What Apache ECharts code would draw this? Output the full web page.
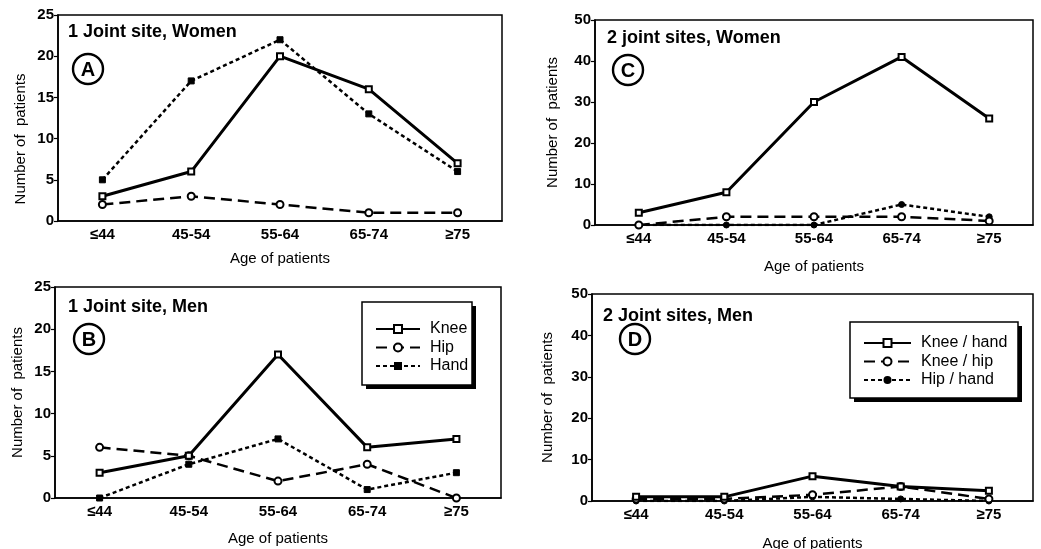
<!DOCTYPE html>
<html>
<head>
<meta charset="utf-8">
<script src="https://cdn.jsdelivr.net/npm/echarts@6/dist/echarts.min.js"></script>
<style>
html,body{margin:0;padding:0;background:#fff;}
#chart{width:1041px;height:549px;}
</style>
</head>
<body>
<div id="chart"></div>
<script>
var categories = ['≤44', '45-54', '55-64', '65-74', '≥75'];
var yTicks1 = [0, 5, 10, 15, 20, 25];
var yTicks2 = [0, 10, 20, 30, 40, 50];

var aKnee = [3, 6, 20, 16, 7];
var aHip = [2, 3, 2, 1, 1];
var aHand = [5, 17, 22, 13, 6];

var bKnee = [3, 5, 17, 6, 7];
var bHip = [6, 5, 2, 4, 0];
var bHand = [0, 4, 7, 1, 3];

var cKneeHand = [3, 8, 30, 41, 26];
var cKneeHip = [0, 2, 2, 2, 1];
var cHipHand = [0, 0, 0, 5, 2];

var dKneeHand = [1, 1, 6, 3.5, 2.5];
var dKneeHip = [0.5, 0.5, 1.5, 3.5, 0.5];
var dHipHand = [0, 0, 1, 0.5, 0];

var panelTitles = ['1 Joint site, Women', '1 Joint site, Men', '2 joint sites, Women', '2 Joint sites, Men'];
var panelLetters = ['A', 'B', 'C', 'D'];
var legend1 = ['Knee', 'Hip', 'Hand'];
var legend2 = ['Knee / hand', 'Knee / hip', 'Hip / hand'];

var FONT = 'Liberation Sans, Arial, Helvetica, sans-serif';

var grids = [
  {left: 58, top: 15, width: 444, height: 206},
  {left: 55, top: 287, width: 446, height: 211},
  {left: 595, top: 20, width: 438, height: 205},
  {left: 592, top: 294, width: 441, height: 207}
];

function xAxis(i, gap) {
  return {
    type: 'category', gridIndex: i, data: categories, boundaryGap: true,
    name: 'Age of patients', nameLocation: 'middle', nameGap: gap,
    nameTextStyle: {fontFamily: FONT, fontSize: 15, color: '#000'},
    axisLine: {lineStyle: {color: '#000', width: 1.6}},
    axisTick: {inside: true, length: 4, lineStyle: {color: '#000', width: 1.2}},
    axisLabel: {fontFamily: FONT, fontSize: 15, fontWeight: 'bold', color: '#000', margin: 6},
    splitLine: {show: false}
  };
}
function yAxis(i, ticks, pad, gap) {
  return {
    type: 'value', gridIndex: i, min: ticks[0], max: ticks[ticks.length - 1],
    interval: ticks[1] - ticks[0],
    name: 'Number of  patients', nameLocation: 'middle', nameGap: gap,
    nameTextStyle: {fontFamily: FONT, fontSize: 15, color: '#000', padding: pad},
    axisLine: {show: true, lineStyle: {color: '#000', width: 1.6}},
    axisTick: {show: true, length: 4, lineStyle: {color: '#000', width: 1.2}},
    axisLabel: {fontFamily: FONT, fontSize: 15, fontWeight: 'bold', color: '#000', margin: 4},
    splitLine: {show: false}
  };
}

function solid(name, data, i) {
  return {name: name, type: 'line', xAxisIndex: i, yAxisIndex: i, data: data,
    symbol: 'emptyRect', symbolSize: 6,
    lineStyle: {color: '#000', width: 3, type: 'solid'},
    itemStyle: {color: '#000', borderColor: '#000', borderWidth: 1.5}, z: 5};
}
function dashed(name, data, i) {
  return {name: name, type: 'line', xAxisIndex: i, yAxisIndex: i, data: data,
    symbol: 'emptyCircle', symbolSize: 7,
    lineStyle: {color: '#000', width: 2.5, type: [11, 6]},
    itemStyle: {color: '#000', borderColor: '#000', borderWidth: 1.5}, z: 4};
}
function dotted(name, data, i, sym) {
  return {name: name, type: 'line', xAxisIndex: i, yAxisIndex: i, data: data,
    symbol: sym, symbolSize: 6,
    lineStyle: {color: '#000', width: 2.5, type: [4, 3]},
    itemStyle: {color: '#000', borderColor: '#000'}, z: 3};
}

var titlePos = [
  {left: 68, top: 23}, {left: 68, top: 298}, {left: 607, top: 29}, {left: 603, top: 307}
];
var circlePos = [[88, 69], [89, 339], [628, 70], [635, 339]];
var legendBoxes = [[362, 302, 110, 83], [850, 322, 168, 76]];

var graphics = [];
legendBoxes.forEach(function (b) {
  graphics.push({type: 'rect', shape: {x: b[0] + 4, y: b[1] + 4, width: b[2], height: b[3]},
    style: {fill: '#000'}, z: 1});
  graphics.push({type: 'rect', shape: {x: b[0], y: b[1], width: b[2], height: b[3]},
    style: {fill: '#fff', stroke: '#000', lineWidth: 1.5}, z: 2});
});
circlePos.forEach(function (p, k) {
  graphics.push({type: 'circle', shape: {cx: p[0], cy: p[1], r: 15},
    style: {fill: '#fff', stroke: '#000', lineWidth: 2.4}, z: 10});
  graphics.push({type: 'text', x: p[0], y: p[1] + 1,
    style: {text: panelLetters[k], fontFamily: FONT, fontSize: 20, fontWeight: 'bold',
      fill: '#000', align: 'center', verticalAlign: 'middle'}, z: 11});
});

var legendCommon = {orient: 'vertical', itemHeight: 10, itemGap: 2.5, padding: 0,
  backgroundColor: 'transparent', z: 20,
  textStyle: {fontFamily: FONT, fontSize: 16, lineHeight: 16, color: '#000', padding: [0, 0, 0, 5]}};

var chart = echarts.init(document.getElementById('chart'), null, {renderer: 'canvas'});
chart.setOption({
  backgroundColor: '#fff',
  animation: false,
  title: panelTitles.map(function (t, k) {
    return {text: t, left: titlePos[k].left, top: titlePos[k].top, padding: 0,
      textStyle: {fontFamily: FONT, fontSize: 18, fontWeight: 'bold', color: '#000'}};
  }),
  legend: [
    Object.assign({data: legend1, left: 375, top: 321, itemWidth: 44}, legendCommon),
    Object.assign({data: legend2, left: 863, top: 335, itemWidth: 47}, legendCommon)
  ],
  grid: grids.map(function (g) {
    return {left: g.left, top: g.top, width: g.width, height: g.height, show: true,
      borderColor: '#000', borderWidth: 1.5, backgroundColor: 'transparent',
      containLabel: false, outerBoundsMode: 'none'};
  }),
  xAxis: [xAxis(0, 30), xAxis(1, 33), xAxis(2, 34), xAxis(3, 35)],
  yAxis: [yAxis(0, yTicks1, [0, 42, 0, 0], 30), yAxis(1, yTicks1, 0, 30),
          yAxis(2, yTicks2, 0, 35), yAxis(3, yTicks2, 0, 37)],
  series: [
    solid('Knee', aKnee, 0), dashed('Hip', aHip, 0), dotted('Hand', aHand, 0, 'rect'),
    solid('Knee', bKnee, 1), dashed('Hip', bHip, 1), dotted('Hand', bHand, 1, 'rect'),
    solid('Knee / hand', cKneeHand, 2), dashed('Knee / hip', cKneeHip, 2), dotted('Hip / hand', cHipHand, 2, 'circle'),
    solid('Knee / hand', dKneeHand, 3), dashed('Knee / hip', dKneeHip, 3), dotted('Hip / hand', dHipHand, 3, 'circle')
  ],
  graphic: graphics
});
</script>
</body>
</html>
